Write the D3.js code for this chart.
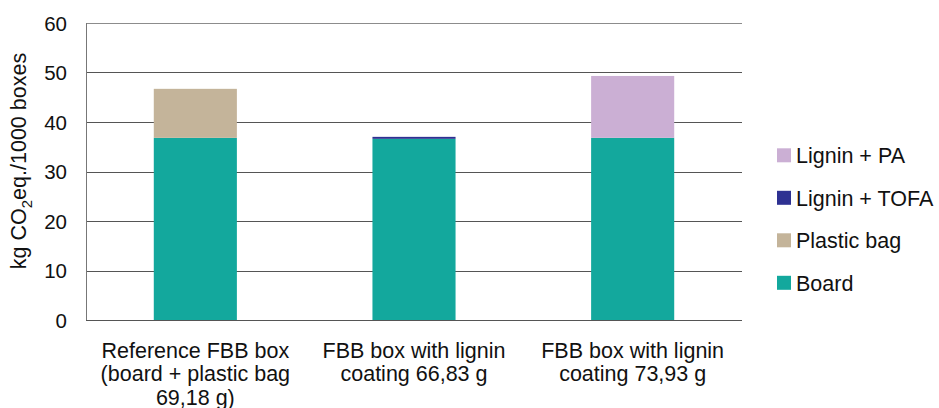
<!DOCTYPE html>
<html>
<head>
<meta charset="utf-8">
<script src="https://cdn.jsdelivr.net/npm/d3@7"></script>
<style>
  html, body { margin: 0; padding: 0; background: #fff; }
  svg { display: block; font-family: "Liberation Sans", Arial, Helvetica, sans-serif; }
</style>
</head>
<body>
<svg id="chart" width="939" height="408"></svg>
<script>
// Packaging options (category labels, one array of lines per category)
const categories = [
  ["Reference FBB box", "(board + plastic bag", "69,18 g)"],
  ["FBB box with lignin", "coating 66,83 g"],
  ["FBB box with lignin", "coating 73,93 g"]
];

// kg CO2 eq. per 1000 boxes, stacked bottom-up
const board      = [36.8, 36.6, 36.8];
const plasticBag = [9.9, 0, 0];
const ligninTofa = [0, 0.4, 0];
const ligninPa   = [0, 0, 12.5];

const yTicks = [0, 10, 20, 30, 40, 50, 60];

const seriesNames  = ["Board", "Plastic bag", "Lignin + TOFA", "Lignin + PA"];
const seriesColors = ["#13A89D", "#C4B49A", "#2E3192", "#CBAFD4"];

const rows = categories.map((c, i) => ({
  key: i,
  "Board": board[i],
  "Plastic bag": plasticBag[i],
  "Lignin + TOFA": ligninTofa[i],
  "Lignin + PA": ligninPa[i]
}));

const svg = d3.select("#chart");
const margin = { left: 86, right: 197, top: 23, bottom: 88 };
const W = 939, H = 408;

const x = d3.scaleBand()
  .domain(categories.map((c, i) => i))
  .range([margin.left, W - margin.right])
  .paddingInner(0.62)
  .paddingOuter(0.31);

const y = d3.scaleLinear().domain([0, 60]).range([H - margin.bottom, margin.top]);

const color = d3.scaleOrdinal().domain(seriesNames).range(seriesColors);

// Horizontal gridlines
svg.append("g")
  .selectAll("line")
  .data(yTicks.filter(t => t > 0))
  .join("line")
  .attr("x1", margin.left)
  .attr("x2", W - margin.right)
  .attr("y1", d => Math.round(y(d)) + 0.5)
  .attr("y2", d => Math.round(y(d)) + 0.5)
  .attr("stroke", d => d === 60 ? "#8c8c8c" : "#555")
  .attr("stroke-width", 1.2);

// Stacked bars
const stack = d3.stack().keys(seriesNames)(rows);
svg.append("g")
  .selectAll("g")
  .data(stack)
  .join("g")
  .attr("fill", d => color(d.key))
  .selectAll("rect")
  .data(d => d.filter(p => p[1] - p[0] > 0))
  .join("rect")
  .attr("x", d => x(d.data.key))
  .attr("width", x.bandwidth())
  .attr("y", d => y(d[1]))
  .attr("height", d => y(d[0]) - y(d[1]));

// Left axis line and baseline
svg.append("line")
  .attr("x1", margin.left + 0.5).attr("x2", margin.left + 0.5)
  .attr("y1", margin.top).attr("y2", y(0))
  .attr("stroke", "#777").attr("stroke-width", 1);
svg.append("line")
  .attr("x1", margin.left).attr("x2", W - margin.right)
  .attr("y1", Math.round(y(0)) + 0.5).attr("y2", Math.round(y(0)) + 0.5)
  .attr("stroke", "#555").attr("stroke-width", 1.2);

// Y axis tick labels
const yAxis = d3.axisLeft(y).tickValues(yTicks).tickSize(0).tickPadding(19);
const gy = svg.append("g").attr("transform", `translate(${margin.left},0)`).call(yAxis);
gy.select(".domain").remove();
gy.selectAll("text")
  .attr("font-size", 20.5)
  .attr("dy", "0.36em")
  .attr("font-family", "Liberation Sans, Arial, sans-serif")
  .attr("fill", "#111");

// Y axis title with subscript
const yTitle = svg.append("text")
  .attr("transform", `translate(25.5,161) rotate(-90)`)
  .attr("text-anchor", "middle")
  .attr("font-size", 21.5)
  .attr("fill", "#111");
yTitle.append("tspan").text("kg CO");
yTitle.append("tspan").attr("font-size", 15).attr("dy", 6).text("2");
yTitle.append("tspan").attr("dy", -6).text("eq./1000 boxes");

// Category labels
const xl = svg.append("g");
categories.forEach((lines, i) => {
  const t = xl.append("text")
    .attr("text-anchor", "middle")
    .attr("font-size", 21.5)
    .attr("fill", "#111");
  lines.forEach((ln, j) => {
    t.append("tspan")
      .attr("x", x(i) + x.bandwidth() / 2)
      .attr("y", 358.3 + j * 23.1)
      .text(ln);
  });
});

// Legend (top to bottom: reverse stacking order)
const legendItems = seriesNames.slice().reverse();
const lg = svg.append("g");
legendItems.forEach((name, i) => {
  const cy = 155.3 + i * 42.5;
  lg.append("rect")
    .attr("x", 777).attr("y", cy - 7)
    .attr("width", 14).attr("height", 14)
    .attr("fill", color(name));
  lg.append("text")
    .attr("x", 796).attr("y", cy + 8)
    .attr("font-size", 21.5)
    .attr("fill", "#111")
    .text(name);
});
</script>
</body>
</html>
